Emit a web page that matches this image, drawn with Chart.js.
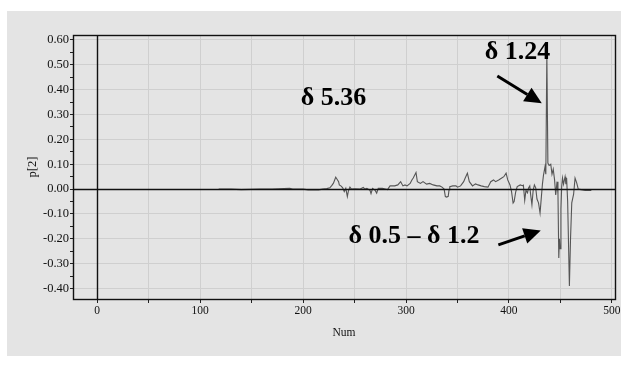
<!DOCTYPE html>
<html>
<head>
<meta charset="utf-8">
<script src="https://cdn.jsdelivr.net/npm/chart.js@4.4.0/dist/chart.umd.min.js"></script>
<style>
  html, body { margin: 0; padding: 0; background: #fff; }
  #wrap { position: relative; width: 621px; height: 366px; }
</style>
</head>
<body>
<div id="wrap"><canvas id="chart" width="621" height="366"></canvas></div>
<script>
// loading values
var nums = [118, 130, 140, 158, 170, 187, 190, 200, 205, 215,
    219, 223, 226, 228, 229.5, 231.7, 233, 234.5, 235.2, 237,
    238.5, 240, 241.5, 243, 244, 245.5, 247, 250, 255, 258.5,
    260, 262, 265, 266, 267.5, 270, 271.5, 273, 277, 280,
    282, 284.5, 289, 292, 294.8, 297, 299, 301, 304, 305.7,
    307, 309.7, 311, 314, 316.5, 320, 323, 326.4, 330, 332.7,
    335, 337, 338.2, 339.5, 341, 341.8, 342.5, 345.5, 348.5, 350,
    353, 356, 357.5, 359.6, 361.5, 364.6, 367.5, 370, 373, 376,
    379.6, 382.3, 385, 387, 390, 392.6, 395, 397.2, 398.8, 401,
    402.5, 404, 405, 406.5, 408, 411, 413, 414, 415.3, 416.5,
    418, 419, 420.2, 421, 422.3, 423.5, 424.7, 426, 427.2, 428.7,
    430.2, 431.5, 432.5, 433.5, 435, 435.8, 436.8, 437.8, 439, 440.6,
    441.8, 443, 444.3, 445.4, 446.7, 447.6, 448.4, 449, 449.6, 450.5,
    451.2, 452, 453, 454.5, 455.3, 456, 457, 458.7, 459.8, 461,
    462.8, 464.2, 465.8, 467.3, 470, 474, 480];

var p2 = [0, 0, -0.002, 0, 0, 0.003, 0, 0, -0.003, -0.003,
    0, 0.002, 0.005, 0.015, 0.024, 0.048, 0.04, 0.03, 0.017, 0.012,
    0.005, -0.01, 0.003, -0.03, -0.008, 0.008, 0, 0.001, 0, 0.007,
    0, 0.003, -0.005, -0.018, 0.003, -0.005, -0.016, 0.003, 0.003, 0,
    -0.002, 0.013, 0.013, 0.017, 0.03, 0.013, 0.017, 0.013, 0.023, 0.037,
    0.045, 0.067, 0.03, 0.023, 0.03, 0.02, 0.023, 0.017, 0.013, 0.013,
    0.008, 0, -0.03, -0.032, -0.029, -0.002, 0.01, 0.013, 0.013, 0.008,
    0.013, 0.03, 0.045, 0.064, 0.03, 0.013, 0.021, 0.017, 0.013, 0.01,
    0.008, 0.03, 0.037, 0.03, 0.037, 0.044, 0.05, 0.064, 0.037, 0.017,
    -0.01, -0.056, -0.05, -0.012, 0.01, 0.017, 0.014, 0.016, -0.045, -0.005,
    -0.015, 0.005, 0.013, -0.02, -0.063, -0.005, 0.017, 0.005, -0.04, -0.055,
    -0.096, -0.03, 0.02, 0.055, 0.09, 0.06, 0.545, 0.105, 0.095, 0.1,
    0.06, 0.08, 0.037, -0.023, 0.03, -0.02, -0.277, -0.2, -0.24, -0.08,
    0.01, 0.045, 0.02, 0.05, 0.02, 0.045, -0.05, -0.39, -0.2, -0.055,
    -0.02, 0.044, 0.025, 0, -0.002, -0.005, -0.005];

var xTicks = [0, 50, 100, 150, 200, 250, 300, 350, 400, 450, 500];
var yTicks = [-0.40, -0.35, -0.30, -0.25, -0.20, -0.15, -0.10, -0.05, 0,
    0.05, 0.10, 0.15, 0.20, 0.25, 0.30, 0.35, 0.40, 0.45, 0.50, 0.55, 0.60];

// annotations, in data units
var notes = [
    { text: 'δ 5.36', x: 229.5, y: 0.367 },
    { text: 'δ 1.24', x: 408.2, y: 0.551 },
    { text: 'δ 0.5 – δ 1.2', x: 307.8, y: -0.188 }
];
var arrows = [
    { x1: 388.7, y1: 0.455, x2: 431.9, y2: 0.345 },
    { x1: 389.7, y1: -0.224, x2: 430.9, y2: -0.166 }
];

var serif = 'Liberation Serif, Times New Roman, serif';

function isMajorY(v) {
    return Math.abs(Math.round(v * 20)) % 2 === 0;
}

var panel = {
    id: 'panel',
    beforeDraw: function (chart) {
        var ctx = chart.ctx;
        ctx.save();
        ctx.fillStyle = '#e4e4e4';
        ctx.fillRect(7, 11, 614, 345);
        ctx.restore();
    }
};

var overlay = {
    id: 'overlay',
    afterDatasetsDraw: function (chart) {
        var ctx = chart.ctx;
        var a = chart.chartArea;
        var sx = chart.scales.x;
        var sy = chart.scales.y;
        ctx.save();

        // zero lines
        ctx.strokeStyle = '#111';
        ctx.lineWidth = 1.4;
        var x0 = Math.round(sx.getPixelForValue(0)) + 0.5;
        var y0 = Math.round(sy.getPixelForValue(0)) + 0.5;
        ctx.beginPath();
        ctx.moveTo(x0, a.top);
        ctx.lineTo(x0, a.bottom);
        ctx.moveTo(a.left, y0);
        ctx.lineTo(a.right, y0);
        ctx.stroke();

        // frame
        ctx.strokeRect(Math.round(a.left) + 0.5, Math.round(a.top) + 0.5,
            Math.round(a.right - a.left), Math.round(a.bottom - a.top));

        // labels
        ctx.fillStyle = '#000';
        ctx.font = 'bold 26px ' + serif;
        ctx.textAlign = 'center';
        ctx.textBaseline = 'middle';
        notes.forEach(function (n) {
            ctx.fillText(n.text, sx.getPixelForValue(n.x), sy.getPixelForValue(n.y));
        });

        // arrows
        arrows.forEach(function (ar) {
            var px1 = sx.getPixelForValue(ar.x1), py1 = sy.getPixelForValue(ar.y1);
            var px2 = sx.getPixelForValue(ar.x2), py2 = sy.getPixelForValue(ar.y2);
            var ang = Math.atan2(py2 - py1, px2 - px1);
            var head = 17, half = 8;
            var bx = px2 - head * Math.cos(ang), by = py2 - head * Math.sin(ang);
            ctx.strokeStyle = '#000';
            ctx.lineWidth = 3;
            ctx.beginPath();
            ctx.moveTo(px1, py1);
            ctx.lineTo(bx, by);
            ctx.stroke();
            ctx.beginPath();
            ctx.moveTo(px2, py2);
            ctx.lineTo(bx + half * Math.sin(ang), by - half * Math.cos(ang));
            ctx.lineTo(bx - half * Math.sin(ang), by + half * Math.cos(ang));
            ctx.closePath();
            ctx.fill();
        });
        ctx.restore();
    }
};

var ctx = document.getElementById('chart').getContext('2d');
var chart = new Chart(ctx, {
    type: 'scatter',
    data: {
        datasets: [{
            data: nums.map(function (n, i) { return { x: n, y: p2[i] }; }),
            showLine: true,
            borderColor: '#555555',
            borderWidth: 1.1,
            pointRadius: 0,
            tension: 0
        }]
    },
    options: {
        responsive: false,
        animation: false,
        layout: { padding: { left: 7, top: 35, right: 6, bottom: 11 } },
        plugins: {
            legend: { display: false },
            tooltip: { enabled: false }
        },
        scales: {
            x: {
                type: 'linear',
                min: -23.5,
                max: 503,
                afterBuildTicks: function (s) {
                    s.ticks = xTicks.map(function (v) { return { value: v }; });
                },
                afterFit: function (s) {
                    s.height = 56;
                    s.paddingLeft = 0;
                    s.paddingRight = 0;
                },
                border: { display: false },
                grid: { color: '#cfcfcf', tickColor: '#222', tickLength: 4, lineWidth: 1 },
                ticks: {
                    autoSkip: false,
                    maxRotation: 0,
                    padding: 1,
                    color: '#111',
                    font: { family: serif, size: 11.5 },
                    callback: function (v) { return v % 100 === 0 ? String(v) : ''; }
                },
                title: {
                    display: true,
                    text: 'Num',
                    color: '#111',
                    font: { family: serif, size: 11.5 },
                    padding: { top: 0, bottom: 15 }
                }
            },
            y: {
                min: -0.442,
                max: 0.62,
                afterBuildTicks: function (s) {
                    s.ticks = yTicks.map(function (v) { return { value: v }; });
                },
                afterFit: function (s) {
                    s.width = 66;
                    s.paddingTop = 0;
                    s.paddingBottom = 0;
                },
                border: { display: false },
                grid: {
                    color: function (c) {
                        return c.tick && isMajorY(c.tick.value) ? '#cfcfcf' : 'rgba(0,0,0,0)';
                    },
                    tickColor: '#222',
                    tickLength: 3,
                    lineWidth: 1
                },
                ticks: {
                    autoSkip: false,
                    padding: 1,
                    color: '#111',
                    font: { family: serif, size: 12.5 },
                    callback: function (v) { return isMajorY(v) ? v.toFixed(2) : ''; }
                },
                title: {
                    display: true,
                    text: 'p[2]',
                    color: '#111',
                    font: { family: serif, size: 12.5 },
                    padding: { top: 18, bottom: 0 }
                }
            }
        }
    },
    plugins: [panel, overlay]
});
</script>
</body>
</html>
